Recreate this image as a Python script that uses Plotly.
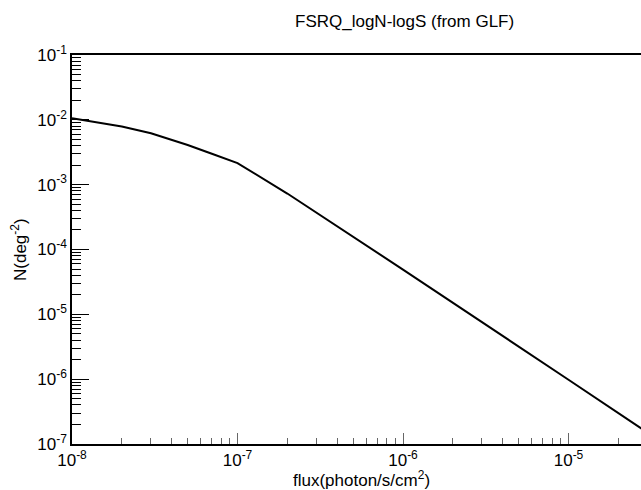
import numpy as np
import plotly.graph_objects as go

# data
flux = [1e-8, 2e-8, 3e-8, 5e-8, 7e-8, 1e-7, 2e-7, 1e-6, 1e-5, 3e-5]
N = [1.06e-2, 7.9e-3, 6.2e-3, 4.1e-3, 3.0e-3, 2.15e-3, 7.3e-4, 4.9e-5, 9.8e-7, 1.5e-7]

x_major = [1e-8, 1e-7, 1e-6, 1e-5]
x_exp = ["-8", "-7", "-6", "-5"]
y_major = [1e-7, 1e-6, 1e-5, 1e-4, 1e-3, 1e-2, 1e-1]
y_exp = ["-7", "-6", "-5", "-4", "-3", "-2", "-1"]


def sup_label(e):
    return '10<sup><span style="font-size:12px">' + e + '</span></sup>'


x_minor = [m * d for d in [1e-8, 1e-7, 1e-6, 1e-5] for m in range(2, 10)]
y_minor = [m * d for d in [1e-7, 1e-6, 1e-5, 1e-4, 1e-3, 1e-2] for m in range(2, 10)]

W, H = 641, 490
L, T, B, R = 72, 55, 46, 0

fig = go.Figure()
fig.add_trace(go.Scatter(x=flux, y=N, mode="lines",
                         line=dict(color="black", width=2), showlegend=False))

font = "Liberation Sans, Arial, sans-serif"
fig.update_layout(
    width=W, height=H,
    margin=dict(l=L, r=R, t=T, b=B),
    paper_bgcolor="white", plot_bgcolor="white",
    font=dict(family=font, color="black", size=14),
    xaxis=dict(type="log", range=[-8, -8 + (W - L) / 165.5],
               tickmode="array", tickvals=x_major, ticktext=[sup_label(e) for e in x_exp],
               ticks="inside", ticklen=11, tickcolor="#666", tickwidth=1,
               minor=dict(tickmode="array", tickvals=x_minor, ticks="inside",
                          ticklen=6, tickcolor="#666", tickwidth=1, showgrid=False),
               showline=True, linecolor="black", linewidth=1.5, mirror=True,
               showgrid=False, zeroline=False, tickfont=dict(size=17)),
    yaxis=dict(type="log", range=[-7, -1],
               tickmode="array", tickvals=y_major, ticktext=[sup_label(e) for e in y_exp],
               ticks="inside", ticklen=17, tickcolor="black", tickwidth=1,
               minor=dict(tickmode="array", tickvals=y_minor, ticks="inside",
                          ticklen=9, tickcolor="black", tickwidth=1, showgrid=False),
               showline=True, linecolor="black", linewidth=1.5, mirror=False,
               showgrid=False, zeroline=False, tickfont=dict(size=17)),
    annotations=[
        dict(text="FSRQ_logN-logS (from GLF)", xref="paper", yref="paper",
             x=(404 - L) / (W - L - R), y=1 + (T - 22) / (H - T - B),
             xanchor="center", yanchor="middle", showarrow=False,
             font=dict(size=17, family=font)),
        dict(text='flux(photon/s/cm<sup><span style="font-size:12px">2</span></sup>)',
             xref="paper", yref="paper",
             x=(361 - L) / (W - L - R), y=-(479 - (H - B)) / (H - T - B),
             xanchor="center", yanchor="middle", showarrow=False,
             font=dict(size=17, family=font)),
        dict(text='N(deg<sup><span style="font-size:12px">-2</span></sup>)',
             xref="paper", yref="paper",
             x=-(L - 19) / (W - L - R), y=1 - (250 - T) / (H - T - B),
             xanchor="center", yanchor="middle", showarrow=False, textangle=-90,
             font=dict(size=17, family=font)),
    ],
)

fig.write_html("out.html")
